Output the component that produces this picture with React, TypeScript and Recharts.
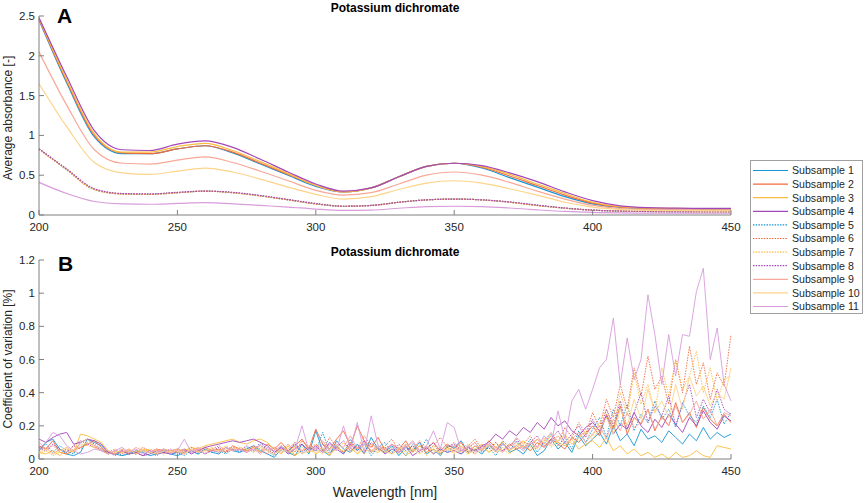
import { LineChart, Line, XAxis, YAxis } from 'recharts'

// Panel A: average absorbance, sampled every 10 nm
const waveA = [200, 210, 220, 230, 240, 250, 260, 270, 280, 290, 300, 310, 320, 330, 340, 350, 360, 370, 380, 390, 400, 410, 420, 430, 440, 450]

const abs1 = [2.45, 1.66, 0.98, 0.77, 0.77, 0.83, 0.87, 0.78, 0.64, 0.50, 0.36, 0.29, 0.34, 0.48, 0.61, 0.65, 0.59, 0.47, 0.35, 0.23, 0.14, 0.095, 0.08, 0.077, 0.075, 0.075]
const abs2 = [2.46, 1.68, 1.0, 0.78, 0.77, 0.83, 0.87, 0.79, 0.65, 0.51, 0.37, 0.29, 0.34, 0.48, 0.61, 0.65, 0.60, 0.49, 0.37, 0.25, 0.15, 0.10, 0.085, 0.08, 0.078, 0.077]
const abs3 = [2.47, 1.70, 1.02, 0.79, 0.79, 0.86, 0.90, 0.81, 0.67, 0.52, 0.37, 0.29, 0.34, 0.48, 0.61, 0.65, 0.61, 0.51, 0.39, 0.27, 0.16, 0.105, 0.088, 0.082, 0.08, 0.08]
const abs4 = [2.48, 1.74, 1.06, 0.82, 0.81, 0.89, 0.93, 0.85, 0.70, 0.54, 0.39, 0.30, 0.34, 0.48, 0.61, 0.65, 0.62, 0.53, 0.42, 0.29, 0.18, 0.115, 0.092, 0.086, 0.083, 0.082]
const abs5 = [0.83, 0.57, 0.32, 0.265, 0.26, 0.28, 0.30, 0.28, 0.24, 0.19, 0.14, 0.11, 0.12, 0.16, 0.19, 0.20, 0.19, 0.16, 0.12, 0.085, 0.06, 0.048, 0.043, 0.04, 0.04, 0.04]
const abs6 = [0.83, 0.57, 0.32, 0.265, 0.26, 0.28, 0.30, 0.28, 0.24, 0.19, 0.14, 0.11, 0.12, 0.16, 0.19, 0.20, 0.19, 0.16, 0.12, 0.086, 0.061, 0.049, 0.044, 0.041, 0.04, 0.04]
const abs7 = [0.82, 0.57, 0.32, 0.265, 0.26, 0.28, 0.30, 0.28, 0.24, 0.19, 0.14, 0.11, 0.12, 0.16, 0.19, 0.20, 0.19, 0.16, 0.12, 0.086, 0.061, 0.049, 0.044, 0.041, 0.04, 0.04]
const abs8 = [0.83, 0.58, 0.33, 0.27, 0.265, 0.285, 0.30, 0.285, 0.245, 0.195, 0.145, 0.11, 0.12, 0.16, 0.19, 0.20, 0.19, 0.165, 0.125, 0.088, 0.062, 0.05, 0.045, 0.042, 0.041, 0.041]
const abs9 = [2.05, 1.38, 0.82, 0.65, 0.64, 0.69, 0.73, 0.66, 0.55, 0.43, 0.31, 0.25, 0.28, 0.39, 0.50, 0.54, 0.50, 0.41, 0.30, 0.20, 0.12, 0.08, 0.068, 0.065, 0.063, 0.062]
const abs10 = [1.65, 1.11, 0.66, 0.53, 0.51, 0.55, 0.59, 0.54, 0.45, 0.35, 0.26, 0.20, 0.23, 0.32, 0.40, 0.43, 0.40, 0.33, 0.25, 0.16, 0.10, 0.07, 0.058, 0.055, 0.053, 0.052]
const abs11 = [0.41, 0.27, 0.17, 0.14, 0.135, 0.145, 0.155, 0.14, 0.12, 0.10, 0.075, 0.058, 0.062, 0.085, 0.105, 0.11, 0.105, 0.088, 0.065, 0.045, 0.032, 0.026, 0.024, 0.023, 0.022, 0.022]

// Panel B: coefficient of variation, sampled every 2.5 nm (200..450)
const waveB = Array.from({ length: 101 }, (_, i) => 200 + i * 2.5)

const cv1 = [
  0.05, 0.10, 0.12, 0.06, 0.03, 0.02, 0.04, 0.12, 0.10, 0.08,
  0.04, 0.03, 0.02, 0.03, 0.05, 0.04, 0.02, 0.03, 0.04, 0.03,
  0.02, 0.04, 0.05, 0.03, 0.06, 0.04, 0.03, 0.07, 0.05, 0.04,
  0.06, 0.08, 0.05, 0.03, 0.01, 0.06, 0.04, 0.02, 0.09, 0.03,
  0.17, 0.05, 0.02, 0.11, 0.06, 0.04, 0.09, 0.03, 0.13, 0.06,
  0.04, 0.08, 0.02, 0.07, 0.05, 0.10, 0.03, 0.06, 0.02, 0.08,
  0.07, 0.11, 0.04, 0.06, 0.03, 0.08, 0.05, 0.10, 0.04, 0.06,
  0.03, 0.09, 0.02, 0.05, 0.12, 0.06, 0.10, 0.04, 0.14, 0.08,
  0.12, 0.16, 0.09, 0.20, 0.11, 0.15, 0.08, 0.18, 0.12, 0.14,
  0.10, 0.17, 0.13, 0.09, 0.15, 0.11, 0.19, 0.12, 0.16, 0.13, 0.15,
]
const cv2 = [
  0.08, 0.06, 0.11, 0.04, 0.03, 0.05, 0.07, 0.09, 0.11, 0.07,
  0.03, 0.05, 0.04, 0.06, 0.03, 0.05, 0.04, 0.06, 0.05, 0.04,
  0.05, 0.03, 0.06, 0.04, 0.07, 0.05, 0.06, 0.04, 0.08, 0.06,
  0.05, 0.07, 0.04, 0.09, 0.06, 0.10, 0.05, 0.08, 0.12, 0.06,
  0.18, 0.09, 0.06, 0.12, 0.17, 0.08, 0.20, 0.11, 0.07, 0.13,
  0.05, 0.09, 0.06, 0.11, 0.04, 0.08, 0.06, 0.10, 0.05, 0.09,
  0.06, 0.10, 0.04, 0.08, 0.05, 0.11, 0.07, 0.05, 0.09, 0.06,
  0.08, 0.05, 0.10, 0.07, 0.12, 0.09, 0.06, 0.13, 0.10, 0.15,
  0.20, 0.14, 0.27, 0.18, 0.32, 0.15, 0.25, 0.21, 0.30, 0.17,
  0.26, 0.20, 0.34, 0.22, 0.28, 0.19, 0.31, 0.24, 0.20, 0.27, 0.22,
]
const cv3 = [
  0.04, 0.03, 0.05, 0.02, 0.06, 0.04, 0.15, 0.14, 0.12, 0.10,
  0.05, 0.03, 0.04, 0.05, 0.04, 0.06, 0.05, 0.04, 0.06, 0.05,
  0.06, 0.05, 0.07, 0.06, 0.08, 0.09, 0.10, 0.11, 0.12, 0.10,
  0.09, 0.11, 0.12, 0.10, 0.06, 0.03, 0.08, 0.02, 0.05, 0.07,
  0.03, 0.06, 0.02, 0.08, 0.04, 0.07, 0.03, 0.09, 0.05, 0.04,
  0.07, 0.03, 0.06, 0.02, 0.05, 0.08, 0.04, 0.06, 0.03, 0.07,
  0.05, 0.08, 0.03, 0.06, 0.09, 0.04, 0.07, 0.10, 0.05, 0.08,
  0.11, 0.07, 0.12, 0.09, 0.14, 0.10, 0.08, 0.12, 0.06, 0.09,
  0.11, 0.07, 0.13, 0.05, 0.08, 0.03, 0.06, 0.02, 0.04, 0.01,
  0.03, 0.0, 0.04, 0.01, 0.02, 0.05, 0.02, 0.01, 0.08, 0.07, 0.06,
]
const cv4 = [
  0.12, 0.10, 0.13, 0.15, 0.16, 0.09, 0.10, 0.12, 0.11, 0.09,
  0.04, 0.03, 0.05, 0.03, 0.04, 0.02, 0.03, 0.05, 0.04, 0.03,
  0.04, 0.06, 0.03, 0.05, 0.07, 0.08, 0.09, 0.10, 0.11, 0.10,
  0.11, 0.12, 0.10, 0.08, 0.04, 0.07, 0.03, 0.06, 0.09, 0.05,
  0.08, 0.04, 0.10, 0.06, 0.03, 0.09, 0.05, 0.11, 0.04, 0.07,
  0.03, 0.06, 0.04, 0.08, 0.02, 0.05, 0.07, 0.03, 0.06, 0.04,
  0.05, 0.03, 0.07, 0.05, 0.08, 0.10, 0.15, 0.12, 0.17, 0.14,
  0.19, 0.16, 0.22, 0.18, 0.25, 0.20, 0.23, 0.17, 0.14, 0.19,
  0.22, 0.17, 0.26, 0.15, 0.21, 0.18, 0.28, 0.20, 0.16, 0.24,
  0.19, 0.27, 0.21, 0.16, 0.25, 0.20, 0.29, 0.22, 0.18, 0.26, 0.23,
]
const cv5 = [
  0.06, 0.09, 0.04, 0.08, 0.05, 0.03, 0.10, 0.12, 0.09, 0.06,
  0.03, 0.05, 0.02, 0.04, 0.03, 0.05, 0.04, 0.02, 0.05, 0.03,
  0.04, 0.02, 0.05, 0.03, 0.06, 0.04, 0.05, 0.03, 0.06, 0.04,
  0.07, 0.04, 0.09, 0.05, 0.02, 0.08, 0.04, 0.10, 0.03, 0.06,
  0.05, 0.16, 0.04, 0.08, 0.03, 0.12, 0.05, 0.09, 0.02, 0.07,
  0.10, 0.04, 0.07, 0.02, 0.09, 0.05, 0.12, 0.03, 0.06, 0.04,
  0.08, 0.03, 0.06, 0.10, 0.04, 0.07, 0.02, 0.09, 0.05, 0.11,
  0.06, 0.12, 0.04, 0.10, 0.15, 0.08, 0.13, 0.06, 0.17, 0.10,
  0.18, 0.25, 0.13, 0.30, 0.20, 0.33, 0.17, 0.27, 0.22, 0.35,
  0.24, 0.30, 0.19, 0.34, 0.26, 0.22, 0.32, 0.25, 0.36, 0.21, 0.28,
]
const cv6 = [
  0.05, 0.07, 0.03, 0.06, 0.04, 0.08, 0.06, 0.10, 0.08, 0.05,
  0.04, 0.06, 0.03, 0.05, 0.04, 0.07, 0.05, 0.03, 0.06, 0.04,
  0.06, 0.04, 0.07, 0.05, 0.03, 0.06, 0.08, 0.05, 0.07, 0.06,
  0.04, 0.08, 0.06, 0.03, 0.07, 0.05, 0.09, 0.04, 0.11, 0.06,
  0.09, 0.05, 0.13, 0.07, 0.04, 0.10, 0.06, 0.14, 0.08, 0.05,
  0.08, 0.12, 0.05, 0.09, 0.06, 0.11, 0.04, 0.08, 0.13, 0.07,
  0.10, 0.05, 0.08, 0.12, 0.06, 0.09, 0.04, 0.11, 0.07, 0.13,
  0.09, 0.14, 0.07, 0.11, 0.16, 0.10, 0.19, 0.13, 0.22, 0.15,
  0.28, 0.19, 0.36, 0.25, 0.45, 0.30, 0.55, 0.38, 0.62, 0.42,
  0.50, 0.33, 0.60, 0.40, 0.68, 0.45, 0.58, 0.36, 0.52, 0.44, 0.75,
]
const cv7 = [
  0.03, 0.05, 0.02, 0.04, 0.03, 0.06, 0.09, 0.08, 0.07, 0.05,
  0.03, 0.04, 0.06, 0.03, 0.05, 0.04, 0.06, 0.05, 0.03, 0.05,
  0.04, 0.06, 0.05, 0.07, 0.04, 0.06, 0.05, 0.08, 0.06, 0.07,
  0.05, 0.07, 0.04, 0.06, 0.03, 0.08, 0.05, 0.02, 0.07, 0.04,
  0.06, 0.03, 0.08, 0.05, 0.10, 0.04, 0.07, 0.03, 0.09, 0.06,
  0.04, 0.07, 0.03, 0.09, 0.05, 0.06, 0.02, 0.08, 0.04, 0.07,
  0.03, 0.06, 0.09, 0.05, 0.08, 0.04, 0.10, 0.06, 0.03, 0.07,
  0.10, 0.05, 0.08, 0.13, 0.07, 0.11, 0.15, 0.09, 0.12, 0.18,
  0.14, 0.22, 0.30, 0.18, 0.40, 0.26, 0.52, 0.33, 0.45, 0.28,
  0.55, 0.38, 0.60, 0.42, 0.50, 0.65, 0.40, 0.55, 0.35, 0.48, 0.50,
]
const cv8 = [
  0.07, 0.05, 0.09, 0.06, 0.04, 0.08, 0.11, 0.09, 0.07, 0.06,
  0.04, 0.02, 0.05, 0.03, 0.04, 0.02, 0.05, 0.03, 0.04, 0.06,
  0.03, 0.05, 0.04, 0.06, 0.03, 0.05, 0.07, 0.04, 0.06, 0.05,
  0.08, 0.05, 0.10, 0.06, 0.03, 0.07, 0.05, 0.09, 0.04, 0.07,
  0.05, 0.09, 0.03, 0.07, 0.11, 0.05, 0.08, 0.04, 0.10, 0.06,
  0.07, 0.03, 0.09, 0.05, 0.08, 0.04, 0.06, 0.10, 0.03, 0.07,
  0.09, 0.05, 0.07, 0.03, 0.08, 0.06, 0.10, 0.05, 0.08, 0.12,
  0.07, 0.10, 0.14, 0.08, 0.12, 0.17, 0.10, 0.15, 0.20, 0.13,
  0.24, 0.16, 0.30, 0.20, 0.35, 0.18, 0.28, 0.40, 0.22, 0.32,
  0.26, 0.38, 0.20, 0.33, 0.45, 0.25, 0.36, 0.28, 0.42, 0.30, 0.27,
]
const cv9 = [
  0.10, 0.06, 0.08, 0.05, 0.07, 0.04, 0.10, 0.12, 0.08, 0.06,
  0.05, 0.03, 0.06, 0.04, 0.07, 0.05, 0.04, 0.06, 0.03, 0.05,
  0.06, 0.04, 0.05, 0.07, 0.05, 0.06, 0.04, 0.07, 0.05, 0.06,
  0.04, 0.06, 0.08, 0.05, 0.07, 0.04, 0.06, 0.10, 0.05, 0.08,
  0.06, 0.11, 0.05, 0.09, 0.07, 0.14, 0.06, 0.10, 0.05, 0.08,
  0.06, 0.09, 0.04, 0.07, 0.10, 0.05, 0.08, 0.03, 0.07, 0.05,
  0.08, 0.04, 0.07, 0.10, 0.05, 0.09, 0.06, 0.04, 0.08, 0.10,
  0.06, 0.09, 0.12, 0.07, 0.10, 0.14, 0.09, 0.12, 0.16, 0.10,
  0.15, 0.20, 0.12, 0.24, 0.17, 0.28, 0.19, 0.22, 0.30, 0.18,
  0.25, 0.20, 0.32, 0.22, 0.27, 0.35, 0.24, 0.30, 0.20, 0.28, 0.26,
]
const cv10 = [
  0.04, 0.06, 0.03, 0.05, 0.07, 0.04, 0.08, 0.10, 0.07, 0.05,
  0.03, 0.05, 0.04, 0.06, 0.03, 0.05, 0.04, 0.03, 0.05, 0.04,
  0.05, 0.03, 0.06, 0.04, 0.05, 0.07, 0.04, 0.06, 0.05, 0.07,
  0.06, 0.04, 0.07, 0.05, 0.03, 0.06, 0.04, 0.07, 0.03, 0.05,
  0.04, 0.07, 0.03, 0.06, 0.05, 0.08, 0.03, 0.06, 0.04, 0.07,
  0.05, 0.03, 0.07, 0.04, 0.06, 0.03, 0.08, 0.05, 0.04, 0.06,
  0.04, 0.07, 0.05, 0.03, 0.06, 0.08, 0.04, 0.07, 0.05, 0.09,
  0.07, 0.10, 0.06, 0.12, 0.08, 0.11, 0.14, 0.09, 0.13, 0.16,
  0.12, 0.18, 0.25, 0.15, 0.30, 0.20, 0.36, 0.24, 0.42, 0.28,
  0.35, 0.25, 0.45, 0.30, 0.50, 0.38, 0.44, 0.32, 0.40, 0.36, 0.55,
]
const cv11 = [
  0.06, 0.10, 0.16, 0.14, 0.08, 0.05, 0.03, 0.04, 0.06, 0.05,
  0.03, 0.05, 0.07, 0.04, 0.06, 0.03, 0.05, 0.04, 0.06, 0.03,
  0.05, 0.12, 0.04, 0.06, 0.03, 0.05, 0.04, 0.07, 0.05, 0.06,
  0.04, 0.06, 0.03, 0.07, 0.05, 0.08, 0.04, 0.06, 0.20, 0.05,
  0.07, 0.04, 0.09, 0.05, 0.20, 0.06, 0.22, 0.04, 0.26, 0.08,
  0.05, 0.09, 0.04, 0.07, 0.11, 0.05, 0.08, 0.17, 0.06, 0.22,
  0.19, 0.05, 0.08, 0.04, 0.07, 0.10, 0.05, 0.09, 0.06, 0.08,
  0.05, 0.10, 0.07, 0.14, 0.09, 0.29, 0.12, 0.35, 0.42, 0.30,
  0.42, 0.55, 0.60, 0.85, 0.45, 0.73, 0.48, 0.60, 0.99, 0.75,
  0.45, 0.75, 0.50, 0.75, 0.74, 1.01, 1.15, 0.60, 0.79, 0.45, 0.35,
]

const seriesNames = ['Subsample 1', 'Subsample 2', 'Subsample 3', 'Subsample 4', 'Subsample 5', 'Subsample 6',
  'Subsample 7', 'Subsample 8', 'Subsample 9', 'Subsample 10', 'Subsample 11']
const seriesColors = ['#1896d4', '#f26a3d', '#fbbd3f', '#a447b8', '#1896d4', '#f26a3d',
  '#fbbd3f', '#a447b8', '#f8a898', '#fcd48a', '#d89cdb']
const dotted = [false, false, false, false, true, true, true, true, false, false, false]

const xTicks = [200, 250, 300, 350, 400, 450]
const yTicksA = [0, 0.5, 1, 1.5, 2, 2.5]
const yTicksB = [0, 0.2, 0.4, 0.6, 0.8, 1, 1.2]

const absSeries = [abs1, abs2, abs3, abs4, abs5, abs6, abs7, abs8, abs9, abs10, abs11]
const cvSeries = [cv1, cv2, cv3, cv4, cv5, cv6, cv7, cv8, cv9, cv10, cv11]

const rowsA = waveA.map((wl, i) => {
  const row: Record<string, number> = { wl }
  absSeries.forEach((s, k) => { row[`s${k + 1}`] = s[i] })
  return row
})
const rowsB = waveB.map((wl, i) => {
  const row: Record<string, number> = { wl }
  cvSeries.forEach((s, k) => { row[`s${k + 1}`] = s[i] })
  return row
})

const FONT = '"Liberation Sans", Arial, Helvetica, sans-serif'
const axisGrey = '#808080'
const tickStyle = { fill: '#262626', fontSize: 11.5, fontFamily: FONT }

function axes(yTicks: number[], yMax: number) {
  return [
    <XAxis key="x" dataKey="wl" type="number" domain={[200, 450]} ticks={xTicks} interval={0}
      height={20} tickSize={-5} tickMargin={13} tick={tickStyle}
      axisLine={{ stroke: axisGrey }} tickLine={{ stroke: axisGrey }} />,
    <YAxis key="y" type="number" domain={[0, yMax]} ticks={yTicks} interval={0}
      width={30} tickSize={-5} tickMargin={9} tick={tickStyle}
      axisLine={{ stroke: axisGrey }} tickLine={{ stroke: axisGrey }} />,
  ]
}

function lines(curve: 'monotone' | 'linear', width: number) {
  return seriesNames.map((name, k) => (
    <Line key={name} name={name} dataKey={`s${k + 1}`} type={curve} stroke={seriesColors[k]}
      strokeWidth={width} strokeDasharray={dotted[k] ? '1.5 1.2' : undefined}
      dot={false} activeDot={false} isAnimationActive={false} />
  ))
}

export default function App() {
  return (
    <div style={{ position: 'absolute', left: 0, top: 0, width: 865, height: 503, background: '#fff', fontFamily: FONT }}>
      <div style={{ position: 'absolute', left: 0, top: 0 }}>
        <LineChart width={865} height={240} data={rowsA} margin={{ top: 16, right: 134, left: 9, bottom: 5 }}>
          {axes(yTicksA, 2.5)}
          {lines('monotone', 1.2)}
        </LineChart>
      </div>
      <div style={{ position: 'absolute', left: 0, top: 240 }}>
        <LineChart width={865} height={263} data={rowsB} margin={{ top: 20, right: 134, left: 9, bottom: 24 }}>
          {axes(yTicksB, 1.2)}
          {lines('linear', 0.9)}
        </LineChart>
      </div>

      <svg width={865} height={503} style={{ position: 'absolute', left: 0, top: 0, pointerEvents: 'none' }}
        fontFamily={FONT}>
        <text x={395} y={11.5} textAnchor="middle" fontSize={12} fontWeight="bold" fill="#000">Potassium dichromate</text>
        <text x={395} y={256} textAnchor="middle" fontSize={12} fontWeight="bold" fill="#000">Potassium dichromate</text>
        <text x={57} y={23} fontSize={21} fontWeight="bold" fill="#000">A</text>
        <text x={58} y={271} fontSize={21} fontWeight="bold" fill="#000">B</text>
        <text transform="translate(12,118) rotate(-90)" textAnchor="middle" fontSize={12} fill="#262626">Average absorbance [-]</text>
        <text transform="translate(12,359) rotate(-90)" textAnchor="middle" fontSize={12} fill="#262626">Coefficient of variation [%]</text>
        <text x={385} y={497} textAnchor="middle" fontSize={14} fill="#262626">Wavelength [nm]</text>

        <rect x={750.5} y={160.5} width={112} height={153} fill="#fff" stroke="#a0a0a0" strokeWidth={1} />
        {seriesNames.map((name, k) => {
          const y = 170.5 + k * 13.6
          return (
            <g key={name}>
              <line x1={753} x2={788} y1={y} y2={y} stroke={seriesColors[k]} strokeWidth={1.2}
                strokeDasharray={dotted[k] ? '1.5 1.2' : undefined} />
              <text x={792} y={y + 3.8} fontSize={10.6} fill="#262626">{name}</text>
            </g>
          )
        })}
      </svg>
    </div>
  )
}
